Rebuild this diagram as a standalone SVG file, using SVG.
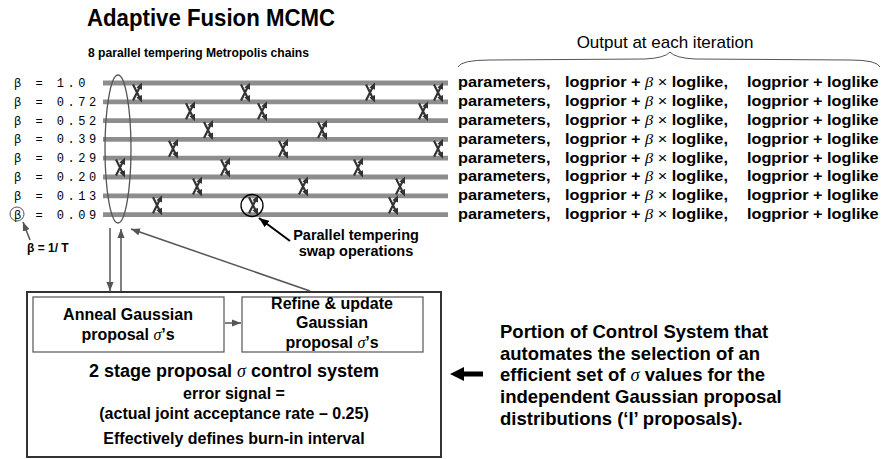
<svg xmlns="http://www.w3.org/2000/svg" width="882" height="459" viewBox="0 0 882 459">
<style>
 .t{font-family:"Liberation Sans",Arial,sans-serif;font-weight:bold;fill:#000}
 .n{font-family:"Liberation Sans",Arial,sans-serif;font-weight:normal;fill:#000}
 .mono{font-family:"Liberation Mono","Courier New",monospace;font-size:12px;letter-spacing:3.5px;fill:#000}
 .gk{font-family:"Liberation Serif","Times New Roman",serif;font-style:italic;font-weight:normal}
 .chain{stroke:#8d8d8d;stroke-width:4.8;fill:none}
 .conn{stroke:#555;stroke-width:1.5;fill:none}
 .box{fill:#fff;stroke:#555;stroke-width:1.2}
 .row{font-size:14px}
</style>
<defs>
 <marker id="ah" viewBox="0 0 10 8" refX="10" refY="4" markerWidth="9" markerHeight="7.2" markerUnits="userSpaceOnUse" orient="auto">
  <path d="M0,0 L10,4 L0,8 z" fill="#555"/>
 </marker>
 <marker id="ahk" viewBox="0 0 10 8" refX="10" refY="4" markerWidth="10" markerHeight="8" markerUnits="userSpaceOnUse" orient="auto">
  <path d="M0,0 L10,4 L0,8 z" fill="#000"/>
 </marker>
 <g id="swap">
  <path d="M-4,-8 L3,6 M-4,8 L3,-6" stroke="#333" stroke-width="2.2" fill="none"/>
  <polygon points="5,10 -0.6,5 5,2.6" fill="#333"/>
  <polygon points="5,-10 5,-2.6 -0.6,-5" fill="#333"/>
 </g>
</defs>
<rect width="882" height="459" fill="#fff"/>

<g id="title">
 <text class="t" x="87" y="26" font-size="23" textLength="248" lengthAdjust="spacingAndGlyphs">Adaptive Fusion MCMC</text>
</g>
<g id="subtitle">
 <text class="t" x="88" y="57" font-size="13.5" textLength="221" lengthAdjust="spacingAndGlyphs">8 parallel tempering Metropolis chains</text>
</g>

<g id="beta-labels">
 <text class="mono" x="14" y="87">β = 1.0</text>
 <text class="mono" x="14" y="105.8">β = 0.72</text>
 <text class="mono" x="14" y="124.6">β = 0.52</text>
 <text class="mono" x="14" y="143.4">β = 0.39</text>
 <text class="mono" x="14" y="162.2">β = 0.29</text>
 <text class="mono" x="14" y="181">β = 0.20</text>
 <text class="mono" x="14" y="199.8">β = 0.13</text>
 <text class="mono" x="14" y="218.6">β = 0.09</text>
 <circle cx="17" cy="214" r="7" fill="none" stroke="#555" stroke-width="1"/>
</g>

<g id="chains">
 <line class="chain" x1="103" y1="83" x2="448" y2="83"/>
 <line class="chain" x1="103" y1="101.8" x2="448" y2="101.8"/>
 <line class="chain" x1="103" y1="120.6" x2="448" y2="120.6"/>
 <line class="chain" x1="103" y1="139.4" x2="448" y2="139.4"/>
 <line class="chain" x1="103" y1="158.2" x2="448" y2="158.2"/>
 <line class="chain" x1="103" y1="177" x2="448" y2="177"/>
 <line class="chain" x1="103" y1="195.8" x2="448" y2="195.8"/>
 <line class="chain" x1="103" y1="214.6" x2="448" y2="214.6"/>
</g>

<g id="swaps">
 <use href="#swap" x="137" y="92.4"/><use href="#swap" x="245" y="92.4"/><use href="#swap" x="370" y="92.4"/><use href="#swap" x="438" y="92.4"/>
 <use href="#swap" x="190" y="111.2"/><use href="#swap" x="262" y="111.2"/><use href="#swap" x="423" y="111.2"/>
 <use href="#swap" x="208" y="130"/><use href="#swap" x="322" y="130"/>
 <use href="#swap" x="173" y="148.8"/><use href="#swap" x="283" y="148.8"/><use href="#swap" x="438" y="148.8"/>
 <use href="#swap" x="120" y="167.6"/><use href="#swap" x="225" y="167.6"/><use href="#swap" x="358" y="167.6"/>
 <use href="#swap" x="197" y="186.4"/><use href="#swap" x="303" y="186.4"/><use href="#swap" x="400" y="186.4"/>
 <use href="#swap" x="157" y="205.2"/><use href="#swap" x="253" y="205.2"/><use href="#swap" x="393" y="205.2"/>
 <circle cx="252" cy="205.5" r="11" fill="none" stroke="#000" stroke-width="1.3"/>
</g>

<g id="selection-ellipse">
 <ellipse cx="118" cy="149" rx="13" ry="74" fill="none" stroke="#555" stroke-width="1.3"/>
</g>

<g id="output-header">
 <text class="n" x="665" y="48" font-size="17" text-anchor="middle">Output at each iteration</text>
 <path d="M458,67 Q461,60 490,60 L645,59 Q665,58 670,52 Q675,58 695,59 L850,60 Q877,60 880,67" fill="none" stroke="#555" stroke-width="1"/>
</g>

<g id="outputs" transform="translate(458,0) scale(1.165,1)">
 <text class="t row" y="87.5"><tspan x="0">parameters,</tspan><tspan x="91.8">logprior + <tspan class="gk">β</tspan> <tspan font-weight="normal">×</tspan> loglike,</tspan><tspan x="248">logprior + loglike</tspan></text>
 <text class="t row" y="106.3"><tspan x="0">parameters,</tspan><tspan x="91.8">logprior + <tspan class="gk">β</tspan> <tspan font-weight="normal">×</tspan> loglike,</tspan><tspan x="248">logprior + loglike</tspan></text>
 <text class="t row" y="125.1"><tspan x="0">parameters,</tspan><tspan x="91.8">logprior + <tspan class="gk">β</tspan> <tspan font-weight="normal">×</tspan> loglike,</tspan><tspan x="248">logprior + loglike</tspan></text>
 <text class="t row" y="143.9"><tspan x="0">parameters,</tspan><tspan x="91.8">logprior + <tspan class="gk">β</tspan> <tspan font-weight="normal">×</tspan> loglike,</tspan><tspan x="248">logprior + loglike</tspan></text>
 <text class="t row" y="162.7"><tspan x="0">parameters,</tspan><tspan x="91.8">logprior + <tspan class="gk">β</tspan> <tspan font-weight="normal">×</tspan> loglike,</tspan><tspan x="248">logprior + loglike</tspan></text>
 <text class="t row" y="181.5"><tspan x="0">parameters,</tspan><tspan x="91.8">logprior + <tspan class="gk">β</tspan> <tspan font-weight="normal">×</tspan> loglike,</tspan><tspan x="248">logprior + loglike</tspan></text>
 <text class="t row" y="200.3"><tspan x="0">parameters,</tspan><tspan x="91.8">logprior + <tspan class="gk">β</tspan> <tspan font-weight="normal">×</tspan> loglike,</tspan><tspan x="248">logprior + loglike</tspan></text>
 <text class="t row" y="219.1"><tspan x="0">parameters,</tspan><tspan x="91.8">logprior + <tspan class="gk">β</tspan> <tspan font-weight="normal">×</tspan> loglike,</tspan><tspan x="248">logprior + loglike</tspan></text>
</g>

<g id="beta-T-label">
 <text class="t" x="27" y="251.5" font-size="12">β = 1/ T</text>
</g>

<g id="swap-label">
 <text class="t" x="356" y="240" font-size="14.5" text-anchor="middle">Parallel tempering</text>
 <text class="t" x="356" y="256" font-size="14.5" text-anchor="middle">swap operations</text>
</g>

<g id="control-box">
 <rect x="27" y="292" width="414" height="165" fill="#fff" stroke="#333" stroke-width="2"/>
 <text class="t" x="234" y="377" font-size="18" text-anchor="middle">2 stage proposal <tspan class="gk">σ</tspan> control system</text>
 <text class="t" x="234" y="399" font-size="16" text-anchor="middle">error signal =</text>
 <text class="t" x="234" y="419" font-size="16" text-anchor="middle">(actual joint acceptance rate – 0.25)</text>
 <text class="t" x="234" y="444" font-size="16" text-anchor="middle">Effectively defines burn-in interval</text>
</g>

<g id="anneal">
 <rect class="box" x="33" y="297" width="191" height="55"/>
 <text class="t" x="128" y="320" font-size="16" text-anchor="middle">Anneal Gaussian</text>
 <text class="t" x="128" y="340" font-size="16" text-anchor="middle">proposal <tspan class="gk">σ</tspan>’s</text>
</g>

<g id="refine">
 <rect class="box" x="242" y="297" width="181" height="55"/>
 <text class="t" x="332" y="309" font-size="16" text-anchor="middle">Refine &amp; update</text>
 <text class="t" x="332" y="328" font-size="16" text-anchor="middle">Gaussian</text>
 <text class="t" x="332" y="348" font-size="16" text-anchor="middle">proposal <tspan class="gk">σ</tspan>’s</text>
</g>

<g id="portion-note">
 <text class="t" x="500" y="338" font-size="18.5">Portion of Control System that</text>
 <text class="t" x="500" y="359.7" font-size="18.5">automates the selection of an</text>
 <text class="t" x="500" y="381.4" font-size="18.5">efficient set of <tspan class="gk">σ</tspan> values for the</text>
 <text class="t" x="500" y="403.1" font-size="18.5">independent Gaussian proposal</text>
 <text class="t" x="500" y="424.8" font-size="18.5">distributions (‘I’ proposals).</text>
</g>

<g id="connectors">
 <line class="conn" x1="110" y1="228" x2="110" y2="291" marker-end="url(#ah)"/>
 <line class="conn" x1="121" y1="291" x2="121" y2="229" marker-end="url(#ah)"/>
 <line class="conn" x1="310" y1="291" x2="131" y2="229" marker-end="url(#ah)"/>
 <line class="conn" x1="225" y1="323" x2="241" y2="323" marker-end="url(#ah)"/>
 <line class="conn" x1="30" y1="240" x2="23" y2="222" marker-end="url(#ah)"/>
 <line x1="290" y1="241" x2="259" y2="218" stroke="#000" stroke-width="2" marker-end="url(#ahk)"/>
 <polygon points="450,374 464,367 464,371.5 483,371.5 483,376.5 464,376.5 464,381" fill="#000"/>
</g>
</svg>
